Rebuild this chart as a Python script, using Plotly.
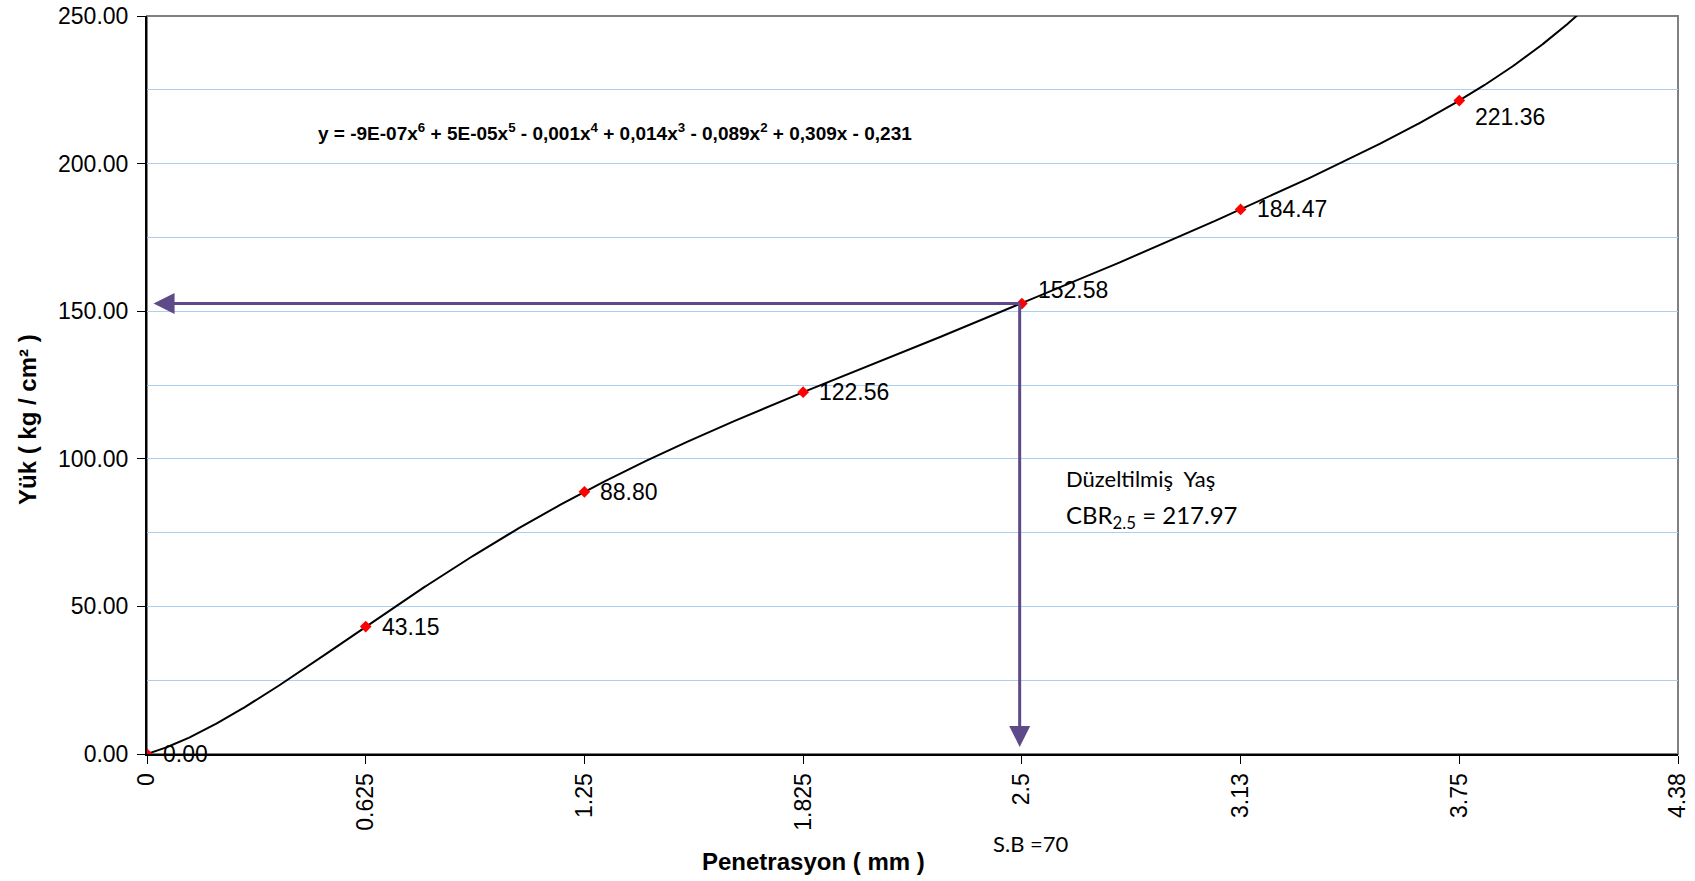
import numpy as np
import plotly.graph_objects as go

# Penetration categories (mm) as printed on the axis, and measured loads
penetration_labels = ["0", "0.625", "1.25", "1.825", "2.5", "3.13", "3.75", "4.38"]
load_values = [0.00, 43.15, 88.80, 122.56, 152.58, 184.47, 221.36]
# vertical offset (px) of each value label relative to its marker
label_yshift = [0, 0, 0, 0, 14, 0, -16]

# Reading taken at 2.5 mm penetration
reading_index = 4
reading_load = 152.58
arrow_floor = 2.4

equation_text = ("y = -9E-07x<sup>6</sup> + 5E-05x<sup>5</sup> - 0,001x<sup>4</sup> "
                 "+ 0,014x<sup>3</sup> - 0,089x<sup>2</sup> + 0,309x - 0,231")
cbr_line1 = "Düzeltilmiş  Yaş"
cbr_line2 = "CBR<sub>2.5</sub> = 217.97"
note_text = "S.B =70"

cat_pos = np.arange(len(penetration_labels))
pt_pos = cat_pos[:len(load_values)]

# 6th-order polynomial trendline over category positions
coef = np.polyfit(pt_pos, load_values, 6)
xs = np.linspace(0, len(penetration_labels) - 1, 1400)
ys = np.polyval(coef, xs)
keep = ys <= 250.5
xs, ys = xs[keep], ys[keep]

ARIAL = "Liberation Sans, Arial, sans-serif"
CAL = "Lato, Open Sans, sans-serif"
PURPLE = "#5E4A89"
GRID = "#A9CFF2"

W, H = 1695, 881
L, R, T, B = 147, 17, 16, 127
pw, ph = W - L - R, H - T - B

fig = go.Figure()

fig.add_trace(go.Scatter(
    x=xs, y=ys, mode="lines",
    line=dict(color="black", width=2),
    hoverinfo="skip", showlegend=False,
))

fig.add_trace(go.Scatter(
    x=pt_pos, y=load_values, mode="markers",
    marker=dict(symbol="diamond", color="#FF0000", size=9),
    showlegend=False,
))

# Value labels beside each marker
for px_, v, dy in zip(pt_pos, load_values, label_yshift):
    fig.add_annotation(
        x=px_, y=v, xref="x", yref="y", text=f"{v:.2f}", showarrow=False,
        xanchor="left", yanchor="middle", xshift=14, yshift=dy,
        font=dict(family=ARIAL, size=23, color="black"),
    )

# Reading arrows: across to the load axis and down to the penetration axis
fig.add_annotation(
    x=0.03, y=reading_load, ax=reading_index, ay=reading_load,
    xref="x", yref="y", axref="x", ayref="y",
    showarrow=True, arrowhead=2, arrowsize=1.4, arrowwidth=3,
    arrowcolor=PURPLE, standoff=0, startstandoff=0, text="",
)
fig.add_annotation(
    x=reading_index - 0.01, y=arrow_floor, ax=reading_index - 0.01, ay=reading_load,
    xref="x", yref="y", axref="x", ayref="y",
    showarrow=True, arrowhead=2, arrowsize=1.4, arrowwidth=3,
    arrowcolor=PURPLE, standoff=0, startstandoff=0, text="",
)


def px_note(x, y, text, font, **kw):
    """Place a text note at page pixel coordinates."""
    fig.add_annotation(
        x=(x - L) / pw, y=(H - B - y) / ph, xref="paper", yref="paper",
        text=text, showarrow=False, font=font, **kw,
    )


px_note(316, 132, f"<b>{equation_text}</b>", dict(family=ARIAL, size=19, color="black"),
        xanchor="left", yanchor="middle")
px_note(1064, 478, cbr_line1, dict(family=CAL, size=22, color="black"),
        xanchor="left", yanchor="middle")
px_note(1064, 516, cbr_line2, dict(family=CAL, size=24, color="black"),
        xanchor="left", yanchor="middle")
px_note(1031, 843, note_text, dict(family=CAL, size=22, color="black"),
        xanchor="center", yanchor="middle")
px_note(813, 862, "<b>Penetrasyon ( mm )</b>", dict(family=ARIAL, size=24, color="black"),
        xanchor="center", yanchor="middle")
px_note(27, 420, "<b>Yük ( kg / cm² )</b>", dict(family=ARIAL, size=24, color="black"),
        xanchor="center", yanchor="middle", textangle=-90)

# Plot-area frame (grey on top and right)
fig.add_shape(type="rect", xref="paper", yref="paper", x0=0, y0=0, x1=1, y1=1,
              line=dict(color="#808080", width=2), layer="below")

fig.update_layout(
    width=W, height=H,
    margin=dict(l=L, r=R, t=T, b=B, autoexpand=False),
    paper_bgcolor="white", plot_bgcolor="white",
    showlegend=False,
)

fig.update_xaxes(
    range=[0, len(penetration_labels) - 1], automargin=False,
    tickmode="array", tickvals=cat_pos, ticktext=penetration_labels,
    tickangle=-90, ticks="outside", ticklen=8, tickcolor="black",
    tickfont=dict(family=ARIAL, size=23, color="black"),
    showline=True, linecolor="black", linewidth=2,
    showgrid=False, zeroline=False,
)
fig.update_yaxes(
    range=[0, 250], dtick=50, tickformat=".2f", automargin=False,
    ticks="outside", ticklen=8, tickcolor="black",
    tickfont=dict(family=ARIAL, size=23, color="black"),
    showline=True, linecolor="black", linewidth=2,
    showgrid=True, gridcolor=GRID, gridwidth=1,
    minor=dict(dtick=25, showgrid=True, gridcolor=GRID, gridwidth=1),
    zeroline=False, ticklabelstandoff=4,
)

fig.write_html("out.html")
